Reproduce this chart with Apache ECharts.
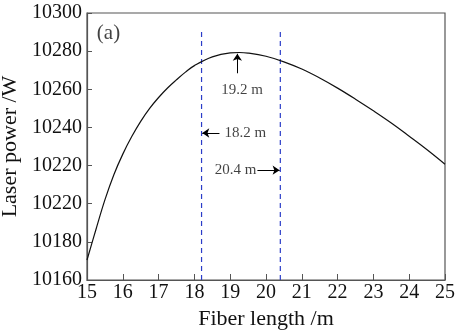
<!DOCTYPE html>
<html>
<head>
<meta charset="utf-8">
<script src="https://cdn.jsdelivr.net/npm/echarts@6/dist/echarts.min.js"></script>
<style>html,body{margin:0;padding:0;background:#fff}#c{width:457px;height:333px}</style>
</head>
<body>
<div id="c"></div>
<script>
// Data
var fiberLength = [15.0, 15.25, 15.5, 15.75, 16.0, 16.25, 16.5, 16.75, 17.0, 17.25, 17.5, 17.75, 18.0, 18.5, 19.0, 19.25, 19.5, 20.0, 20.5, 21.0, 21.5, 22.0, 22.5, 23.0, 23.5, 24.0, 24.5, 25.0];
var laserPower  = [10170.5, 10186.5, 10202, 10215.2, 10226, 10235.2, 10243.2, 10250, 10255.7, 10260.7, 10265, 10269, 10272.4, 10277, 10279.1, 10279.3, 10279, 10277.3, 10274.4, 10270.6, 10265.9, 10260.6, 10254.8, 10248.7, 10242.3, 10235.4, 10228.3, 10220.7];
var xTicks = [15, 16, 17, 18, 19, 20, 21, 22, 23, 24, 25];
var yTickLabels = ['10160', '10180', '10220', '10220', '10240', '10260', '10280', '10300'];
var markerX = [18.2, 20.4];
var markerTop = 10292;
var yMin = 10160, yMax = 10300, yStep = 20;

var font = "'Liberation Serif', 'DejaVu Serif', serif";
var curve = fiberLength.map(function (x, i) { return [x, laserPower[i]]; });

var chart = echarts.init(document.getElementById('c'));
var series = [
  {
    type: 'line', data: curve, smooth: 0.4, showSymbol: false,
    lineStyle: { color: '#111', width: 1.2 }, z: 3,
    markLine: {
      silent: true, symbol: ['none', 'arrow'], symbolSize: 7,
      lineStyle: { color: '#000', width: 1, type: 'solid' },
      label: { show: false },
      data: [
        [{ coord: [19.2, 10268.4] }, { coord: [19.2, 10278.6] }],
        [{ coord: [18.70, 10237.1] }, { coord: [18.22, 10237.1] }],
        [{ coord: [19.76, 10217.6] }, { coord: [20.38, 10217.6] }]
      ]
    }
  }
];
markerX.forEach(function (mx) {
  series.push({
    type: 'line', data: [[mx, yMin], [mx, markerTop]], showSymbol: false,
    lineStyle: { color: '#2a3cc8', width: 1.2, type: [5, 4] }, z: 2
  });
});
series.push({
  type: 'scatter', symbolSize: 0, silent: true,
  data: [
    { value: [19.33, 10259.8], label: { show: true, formatter: '19.2 m', position: 'inside', align: 'center' } },
    { value: [18.84, 10237.1], label: { show: true, formatter: '18.2 m', position: 'inside', align: 'left' } },
    { value: [19.73, 10217.6], label: { show: true, formatter: '20.4 m', position: 'inside', align: 'right' } },
    { value: [15.6, 10289.4], label: { show: true, formatter: '(a)', position: 'inside', align: 'center', fontSize: 21 } }
  ],
  label: { color: '#111', fontFamily: font, fontSize: 15, verticalAlign: 'middle' }
});

chart.setOption({
  animation: false,
  backgroundColor: '#fff',
  grid: { left: 87, right: 12, top: 13, bottom: 53, containLabel: false, outerBoundsMode: 'none',
          show: true, borderColor: '#555', borderWidth: 1.2, backgroundColor: 'transparent' },
  xAxis: {
    type: 'value', min: xTicks[0], max: xTicks[xTicks.length - 1], interval: 1,
    name: 'Fiber length /m', nameLocation: 'middle', nameGap: 27,
    nameTextStyle: { color: '#111', fontFamily: font, fontSize: 22 },
    axisLine: { lineStyle: { color: '#555', width: 1.2 } },
    axisTick: { inside: true, length: 6, lineStyle: { color: '#555' } },
    axisLabel: { color: '#111', fontFamily: font, fontSize: 20, margin: 3 },
    splitLine: { show: false }
  },
  yAxis: {
    type: 'value', min: yMin, max: yMax, interval: yStep,
    name: 'Laser power /W', nameLocation: 'middle', nameGap: 57,
    nameTextStyle: { color: '#111', fontFamily: font, fontSize: 22 },
    axisLine: { show: true, lineStyle: { color: '#555', width: 1.2 } },
    axisTick: { show: true, inside: true, length: 5, lineStyle: { color: '#555' } },
    axisLabel: {
      color: '#111', fontFamily: font, fontSize: 20, margin: 5,
      formatter: function (v) { return yTickLabels[Math.round((v - yMin) / yStep)]; }
    },
    splitLine: { show: false }
  },
  series: series
});
</script>
</body>
</html>
